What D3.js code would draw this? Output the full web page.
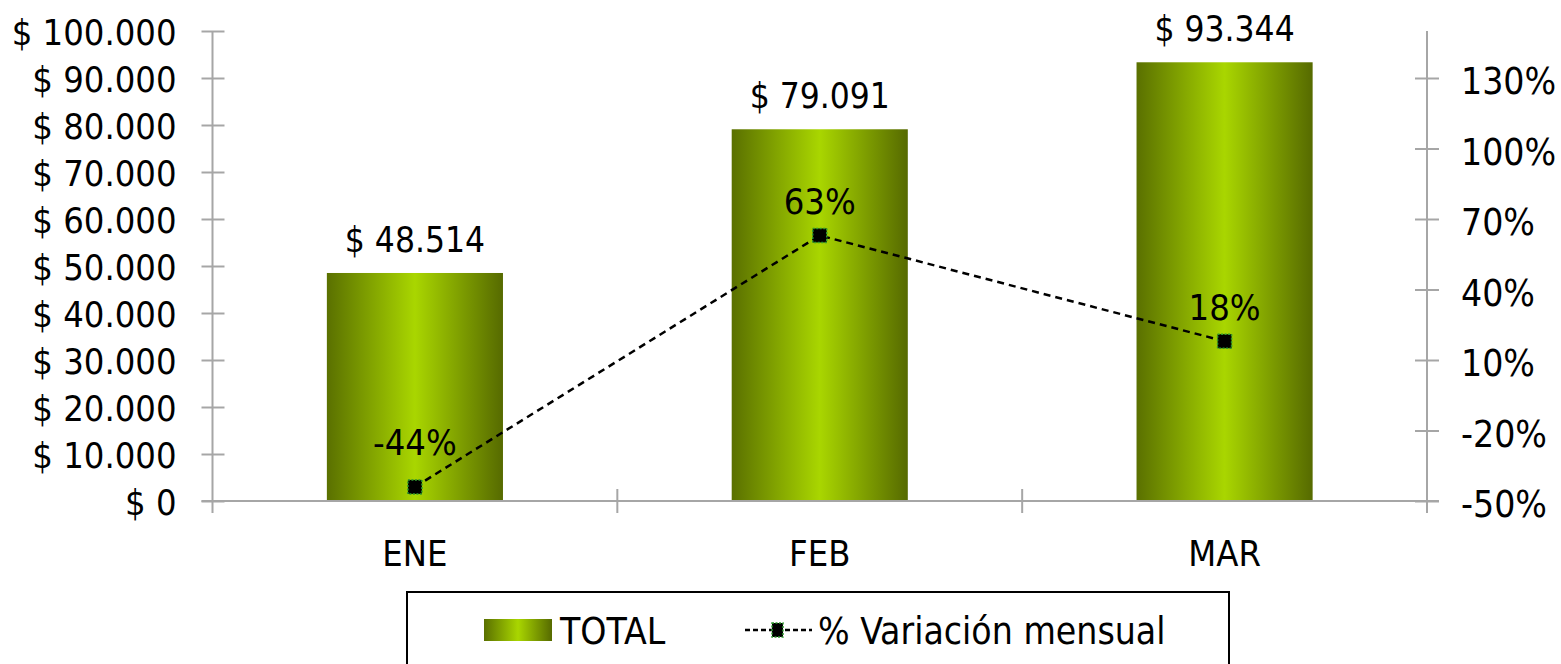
<!DOCTYPE html>
<html>
<head>
<meta charset="utf-8">
<script src="https://cdn.jsdelivr.net/npm/d3@7"></script>
<style>
  html, body { margin: 0; padding: 0; background: #fff; }
  svg { display: block; }
  text { font-family: "DejaVu Sans Condensed", "DejaVu Sans", sans-serif; font-stretch: condensed; fill: #000; }
</style>
</head>
<body>
<svg id="chart" width="1561" height="664"></svg>
<script>
// ---- data ----
const categories = ["ENE", "FEB", "MAR"];
const totals = [48514, 79091, 93344];
const variation = [-44, 63, 18];          // % Variación mensual
const leftTicks = [0, 10000, 20000, 30000, 40000, 50000, 60000, 70000, 80000, 90000, 100000];
const rightTicks = [-50, -20, 10, 40, 70, 100, 130];
const seriesNames = ["TOTAL", "% Variación mensual"];

// ---- layout ----
const W = 1561, H = 664;
const plot = { left: 212.5, right: 1427, top: 31, bottom: 501 };
const pctLabelDy = [-32, -21, -21];
const axisColor = "#a6a6a6";

const svg = d3.select("#chart");
const defs = svg.append("defs");
const grad = defs.append("linearGradient").attr("id", "barGrad")
  .attr("x1", "0%").attr("x2", "100%").attr("y1", "0%").attr("y2", "0%");
grad.append("stop").attr("offset", "0%").attr("stop-color", "#5a7000");
grad.append("stop").attr("offset", "50%").attr("stop-color", "#a9d600");
grad.append("stop").attr("offset", "100%").attr("stop-color", "#566a00");

const locale = d3.formatLocale({ decimal: ",", thousands: ".", grouping: [3], currency: ["$ ", ""] });
const money = locale.format("$,.0f");
const pct = v => v + "%";

const xBand = d3.scaleBand().domain(categories).range([plot.left, plot.right]).paddingInner(0).paddingOuter(0);
const xBar = d3.scaleBand().domain(categories).range([plot.left, plot.right]).paddingInner(0.565).paddingOuter(0.2825);
const yL = d3.scaleLinear().domain([0, 100000]).range([plot.bottom, plot.top]);
const yR = d3.scaleLinear().domain([-50, 150]).range([plot.bottom, plot.top]);
const cx = c => xBand(c) + xBand.bandwidth() / 2;

// ---- bars ----
svg.append("g").selectAll("rect").data(categories).join("rect")
  .attr("x", c => xBar(c))
  .attr("width", xBar.bandwidth())
  .attr("y", (c, i) => yL(totals[i]))
  .attr("height", (c, i) => yL(0) - yL(totals[i]))
  .attr("fill", "url(#barGrad)");

// ---- axes ----
const font = 35, axisFont = 36, legendFont = 37;
// left axis
const gL = svg.append("g").attr("transform", `translate(${plot.left},0)`)
  .call(d3.axisLeft(yL).tickValues(leftTicks).tickFormat(money).tickSizeInner(11).tickSizeOuter(0).tickPadding(25));
gL.select(".domain").remove();
gL.selectAll(".tick line").attr("x1", -11).attr("x2", 12).attr("stroke", axisColor).attr("stroke-width", 2);
gL.selectAll(".tick text").attr("font-size", axisFont).attr("dy", "0.38em").attr("font-family", null);
gL.append("line").attr("x1", 0).attr("x2", 0).attr("y1", plot.top).attr("y2", plot.bottom + 12)
  .attr("stroke", axisColor).attr("stroke-width", 2);

// right axis
const gR = svg.append("g").attr("transform", `translate(${plot.right},0)`)
  .call(d3.axisRight(yR).tickValues(rightTicks).tickFormat(pct).tickSizeInner(12).tickSizeOuter(0).tickPadding(22));
gR.select(".domain").remove();
gR.selectAll(".tick line").attr("x1", -12).attr("x2", 12).attr("stroke", axisColor).attr("stroke-width", 2);
gR.selectAll(".tick text").attr("font-size", axisFont + 1).attr("dy", "0.42em").attr("font-family", null);
gR.append("line").attr("x1", 0).attr("x2", 0).attr("y1", plot.top).attr("y2", plot.bottom + 12)
  .attr("stroke", axisColor).attr("stroke-width", 2);

// bottom axis
const gB = svg.append("g").attr("transform", `translate(0,${plot.bottom})`)
  .call(d3.axisBottom(xBand).tickSize(0).tickPadding(39));
gB.select(".domain").remove();
gB.selectAll(".tick text").attr("font-size", axisFont).attr("font-family", null).attr("dy", "0.71em");
gB.append("line").attr("x1", plot.left - 11).attr("x2", plot.right + 12).attr("y1", 0).attr("y2", 0)
  .attr("stroke", axisColor).attr("stroke-width", 2);
gB.selectAll(".sep").data(categories.slice(1)).join("line").attr("class", "sep")
  .attr("x1", c => xBand(c)).attr("x2", c => xBand(c)).attr("y1", -12).attr("y2", 12)
  .attr("stroke", axisColor).attr("stroke-width", 2);

// ---- bar labels ----
svg.append("g").selectAll("text").data(categories).join("text")
  .attr("x", c => cx(c))
  .attr("y", (c, i) => yL(totals[i]) - 21)
  .attr("text-anchor", "middle").attr("font-size", font)
  .text((c, i) => money(totals[i]));

// ---- line ----
const line = d3.line().x(d => cx(d.c)).y(d => yR(d.v));
const pts = categories.map((c, i) => ({ c, v: variation[i] }));
svg.append("path").datum(pts).attr("d", line)
  .attr("fill", "none").attr("stroke", "#000").attr("stroke-width", 2.5).attr("stroke-dasharray", "7,5");

svg.append("g").selectAll("rect").data(pts).join("rect")
  .attr("x", d => cx(d.c) - 7).attr("y", d => yR(d.v) - 7)
  .attr("width", 14).attr("height", 14)
  .attr("fill", "#000").attr("stroke", "#2f9a2f").attr("stroke-width", 1.5).attr("stroke-dasharray", "2,1.5");

svg.append("g").selectAll("text").data(pts).join("text")
  .attr("x", d => cx(d.c))
  .attr("y", (d, i) => yR(d.v) + pctLabelDy[i])
  .attr("text-anchor", "middle").attr("font-size", axisFont)
  .text(d => pct(d.v));

// ---- legend ----
const lg = svg.append("g");
lg.append("rect").attr("x", 407).attr("y", 592).attr("width", 822).attr("height", 100)
  .attr("fill", "#fff").attr("stroke", "#000").attr("stroke-width", 2);
lg.append("rect").attr("x", 484).attr("y", 619).attr("width", 68).attr("height", 22).attr("fill", "url(#barGrad)");
lg.append("text").attr("x", 560).attr("y", 644).attr("font-size", legendFont).text(seriesNames[0]);
lg.append("line").attr("x1", 745).attr("x2", 812).attr("y1", 630).attr("y2", 630)
  .attr("stroke", "#000").attr("stroke-width", 2.5).attr("stroke-dasharray", "5,3");
lg.append("rect").attr("x", 772).attr("y", 623).attr("width", 11).attr("height", 14)
  .attr("fill", "#000").attr("stroke", "#2f9a2f").attr("stroke-width", 1.5).attr("stroke-dasharray", "2,1.5");
lg.append("text").attr("x", 818).attr("y", 644).attr("font-size", legendFont).text(seriesNames[1]);
</script>
</body>
</html>
